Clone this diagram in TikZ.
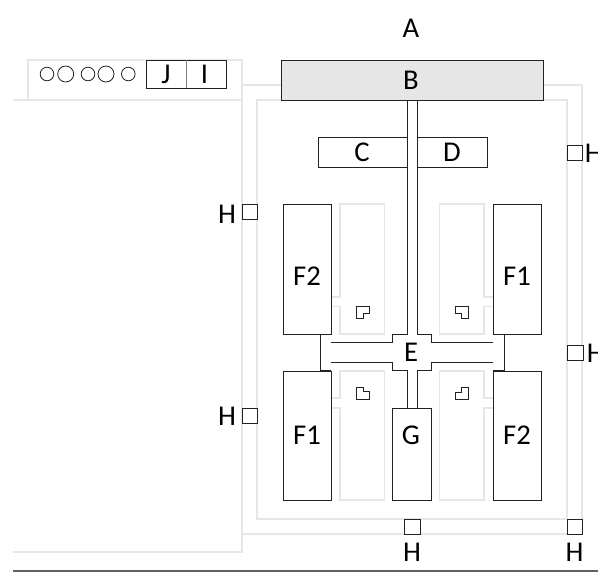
\documentclass[tikz,border=0pt]{standalone}
\usepackage{fontspec}
\setmainfont{Carlito}
\definecolor{wallgrey}{HTML}{E6E6E6}
\definecolor{ink}{HTML}{222222}
\tikzset{
  wall/.style={draw=wallgrey,line width=0.8pt},
  box/.style={draw=ink,line width=0.62pt,line join=miter},
  thin box/.style={draw=ink,line width=0.6pt},
  lbl/.style={font=\fontsize{21.5}{21.5}\selectfont,text=black,inner sep=0pt},
}
\begin{document}
\begin{tikzpicture}[x=0.75pt,y=-0.75pt]
\useasboundingbox (0,0) rectangle (598,572);
\clip (0,0) rectangle (598,572);
% light walls
\draw[wall] (13,100) -- (242,100);
\draw[wall] (28,100) -- (28,60) -- (242,60) -- (242,552) -- (13,552);
\draw[wall] (242,85) -- (281,85);
\draw[wall] (543,85) -- (582,85) -- (582,534) -- (242,534);
\draw[wall] (543,100) -- (567,100) -- (567,519) -- (257,519) -- (257,100) -- (281,100);
% light rooms
\draw[wall] (331,297) -- (340,297) -- (340,204) -- (384.5,204) -- (384.5,334) -- (340,334) -- (340,306.7) -- (331,306.7);
\draw[wall] (493,297) -- (484,297) -- (484,204) -- (439.5,204) -- (439.5,334) -- (484,334) -- (484,306.7) -- (493,306.7);
\draw[wall] (331,398) -- (340,398) -- (340,371) -- (384.5,371) -- (384.5,500) -- (340,500) -- (340,408) -- (331,408);
\draw[wall] (493,398) -- (484,398) -- (484,371) -- (439.5,371) -- (439.5,500) -- (484,500) -- (484,408) -- (493,408);
% bottom rule
\draw[draw=black!62,line width=1.3pt] (13,570.7) -- (598,570.7);
% top-left fixtures
\foreach \cx/\r in {47/6.8,65.7/8,88/6.8,106/8,128.3/6.8}
  \draw[thin box] (\cx,74) circle[radius=\r*0.75pt];
\draw[box,fill=white] (146.5,60) rectangle (226,88);
\draw[draw=black!50,line width=0.6pt] (186.5,60) -- (186.5,88);
% B
\draw[box,fill=wallgrey] (281,60) rectangle (543,100);
% C, D
\draw[box] (318.3,137) rectangle (407,167.7);
\draw[box] (417.3,137) rectangle (487.7,167.7);
% F and G blocks
\draw[box] (283,204) rectangle (331,334);
\draw[box] (493,204) rectangle (541,334);
\draw[box] (283,371) rectangle (331,500);
\draw[box] (493,371) rectangle (541,500);
\draw[box] (392.7,408) rectangle (431.7,500);
% central corridor E
\draw[box] (407,100) -- (407,334) -- (392.7,334) -- (392.7,342.7) -- (330.7,342.7);
\draw[box] (417.3,100) -- (417.3,334) -- (431.7,334) -- (431.7,342.7) -- (493,342.7);
\draw[box] (331,334) -- (320.5,334) -- (320.5,370.7) -- (331,370.7);
\draw[box] (493,334) -- (504,334) -- (504,370.7) -- (493,370.7);
\draw[box] (331,362.3) -- (392.7,362.3) -- (392.7,370.7) -- (407,370.7) -- (407,408);
\draw[box] (493,362.3) -- (431.7,362.3) -- (431.7,370.7) -- (417.3,370.7) -- (417.3,408);
% small notched shapes
\draw[thin box] (356,306.7) -- (369.3,306.7) -- (369.3,313.3) -- (363.3,313.3) -- (363.3,318) -- (356,318) -- cycle;
\draw[thin box] (455.3,306.7) -- (468.6,306.7) -- (468.6,318) -- (461.7,318) -- (461.7,313.3) -- (455.3,313.3) -- cycle;
\draw[thin box] (356,387.7) -- (363.3,387.7) -- (363.3,391.7) -- (369.3,391.7) -- (369.3,399) -- (356,399) -- cycle;
\draw[thin box] (455.3,399) -- (455.3,392) -- (461.7,392) -- (461.7,387.7) -- (468.6,387.7) -- (468.6,399) -- cycle;
% H squares
\foreach \sx/\sy in {242/204.5,242/408,567.3/145,567.8/345,404.8/519,567.3/519}
  \draw[thin box,fill=white] (\sx,\sy) rectangle ++(15.2,15.2);
% labels
\node[lbl] (lA) at (411,28) {A};
\node[lbl] (lB) at (411,80.5) {B};
\node[lbl] (lC) at (362,152.5) {C};
\node[lbl] (lD) at (452,152.5) {D};
\node[lbl] (lE) at (411,352.5) {E};
\node[lbl] (lF2a) at (307,276) {F2};
\node[lbl] (lF1a) at (517,276) {F1};
\node[lbl] (lF1b) at (307,435) {F1};
\node[lbl] (lF2b) at (517,435) {F2};
\node[lbl] (lG) at (411,435) {G};
\node[lbl] (lJ) at (166,74) {J};
\node[lbl] (lI) at (204.5,74) {I};
\node[lbl] (lH1) at (227,214) {H};
\node[lbl] (lH2) at (227,416) {H};
\node[lbl] (lH3) at (412,552) {H};
\node[lbl] (lH4) at (574.5,552) {H};
\node[lbl,anchor=west] (lH5) at (584.5,153) {H};
\node[lbl,anchor=west] (lH6) at (586.5,353) {H};
\end{tikzpicture}
\end{document}
